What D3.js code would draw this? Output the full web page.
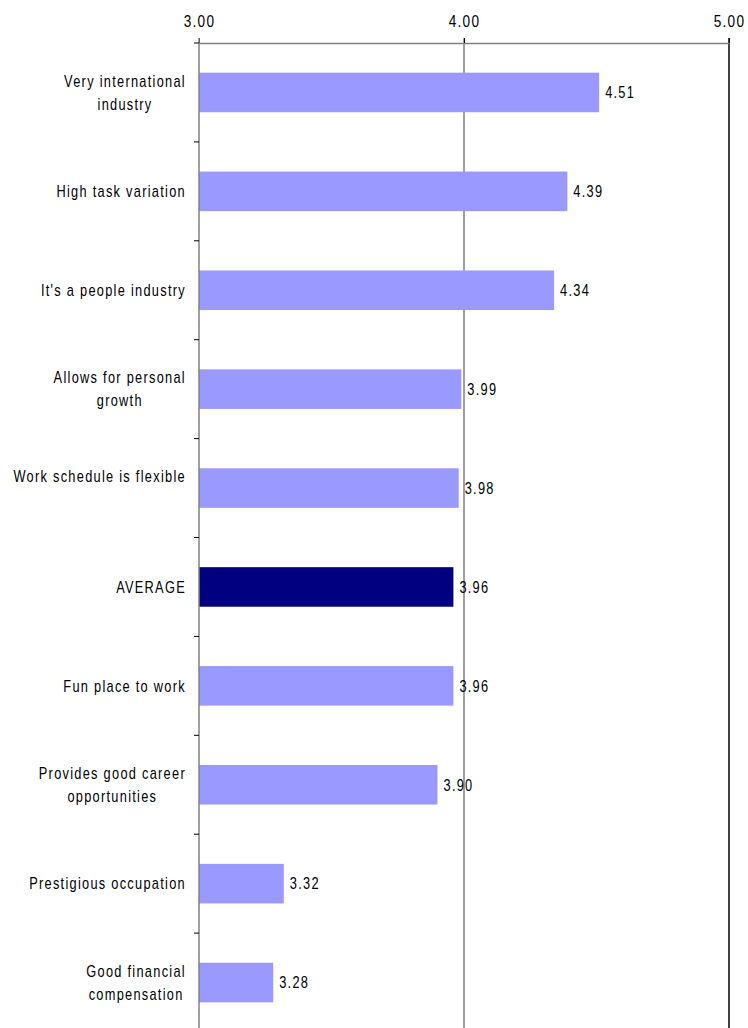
<!DOCTYPE html>
<html>
<head>
<meta charset="utf-8">
<script src="https://cdn.jsdelivr.net/npm/d3@7/dist/d3.min.js"></script>
<style>
  html, body { margin: 0; padding: 0; background: #fff; }
  svg { display: block; }
  text { font-family: "Liberation Sans", Arial, sans-serif; fill: #000; }
</style>
</head>
<body>
<script>
// Survey attributes (top to bottom) and their mean ratings
const categories = [
  ["Very international", "industry"],
  ["High task variation"],
  ["It's a people industry"],
  ["Allows for personal", "growth"],
  ["Work schedule is flexible", ""],
  ["AVERAGE"],
  ["Fun place to work"],
  ["Provides good career", "opportunities"],
  ["Prestigious occupation"],
  ["Good financial", "compensation"]
];
const values = [4.51, 4.39, 4.34, 3.99, 3.98, 3.96, 3.96, 3.90, 3.32, 3.28];
const tickValues = [3, 4, 5];
const highlight = "AVERAGE";

const W = 748, H = 1028;
const margin = { top: 43, left: 199, right: 19 };
const plotBottom = 1032;
const labelRight = 186;

// narrow lettering: regular face squeezed horizontally, spaced out
const SX = 0.8;
const FONT = "16px";
const TICK_FONT = "17px";
const SPACING = "1.6px";

const svg = d3.select("body").append("svg")
  .attr("width", W).attr("height", H);

const keys = categories.map(c => c.join(" ").trim());

const x = d3.scaleLinear().domain([3, 5]).range([margin.left, W - margin.right]);
const y = d3.scaleBand().domain(keys).range([margin.top, plotBottom])
  .paddingInner(0.6).paddingOuter(0.3);

// Vertical gridline at 4.00 and frame line at 5.00
svg.append("line")
  .attr("x1", x(4)).attr("x2", x(4))
  .attr("y1", margin.top - 5).attr("y2", H)
  .attr("stroke", "#808080").attr("stroke-width", 1.5);
svg.append("line")
  .attr("x1", x(5)).attr("x2", x(5))
  .attr("y1", margin.top - 5).attr("y2", H)
  .attr("stroke", "#000").attr("stroke-width", 1.5);

// Bars
svg.append("g").selectAll("rect")
  .data(values)
  .join("rect")
  .attr("x", x(3))
  .attr("y", (d, i) => y(keys[i]))
  .attr("width", d => x(d) - x(3))
  .attr("height", y.bandwidth())
  .attr("fill", (d, i) => keys[i] === highlight ? "#000080" : "#9999FF");

// Top value axis
const xAxis = svg.append("g")
  .attr("transform", `translate(0,${margin.top})`)
  .call(d3.axisTop(x).tickValues(tickValues).tickFormat(d3.format(".2f")).tickSize(5).tickSizeOuter(0));
xAxis.select(".domain").attr("stroke", "#808080").attr("stroke-width", 1.5);
xAxis.selectAll(".tick line").attr("stroke", "#000");
xAxis.selectAll(".tick text")
  .attr("y", 0).attr("dy", 0)
  .attr("transform", `translate(0,-16) scale(${SX},1)`)
  .style("font-size", TICK_FONT)
  .style("font-family", '"Liberation Sans", Arial, sans-serif')
  .style("letter-spacing", SPACING)
  .attr("fill", "#000");

// Left category axis: ticks at band boundaries
const leftAxis = svg.append("g");
leftAxis.append("line")
  .attr("x1", x(3)).attr("x2", x(3))
  .attr("y1", margin.top - 5).attr("y2", H)
  .attr("stroke", "#808080").attr("stroke-width", 1.5);
const boundaries = d3.range(keys.length + 1)
  .map(i => margin.top + i * (plotBottom - margin.top) / keys.length);
leftAxis.selectAll("line.tick")
  .data(boundaries)
  .join("line")
  .attr("class", "tick")
  .attr("x1", x(3) - 5).attr("x2", x(3))
  .attr("y1", d => d).attr("y2", d => d)
  .attr("stroke", "#000");

// Category labels: centred lines, block right-aligned against the axis
const lineH = 23;
const labels = svg.append("g").selectAll("text")
  .data(categories)
  .join("text")
  .attr("text-anchor", "middle")
  .style("font-size", FONT)
  .style("letter-spacing", SPACING);
labels.each(function(c, i) {
  const t = d3.select(this);
  c.forEach((line, j) => {
    t.append("tspan")
      .attr("x", 0)
      .attr("y", (j - (c.length - 1) / 2) * lineH)
      .attr("dy", "0.36em")
      .text(line);
  });
  const widest = d3.max(t.selectAll("tspan").nodes(), n => n.getComputedTextLength()) * SX;
  const cy = y(keys[i]) + y.bandwidth() / 2;
  t.attr("transform", `translate(${labelRight - widest / 2},${cy}) scale(${SX},1)`);
});

// Value labels
svg.append("g").selectAll("text")
  .data(values)
  .join("text")
  .attr("transform", (d, i) => `translate(${x(d) + 6},${y(keys[i]) + y.bandwidth() / 2}) scale(${SX},1)`)
  .attr("dy", "0.36em")
  .style("font-size", FONT)
  .style("letter-spacing", SPACING)
  .text(d => d.toFixed(2));
</script>
</body>
</html>
